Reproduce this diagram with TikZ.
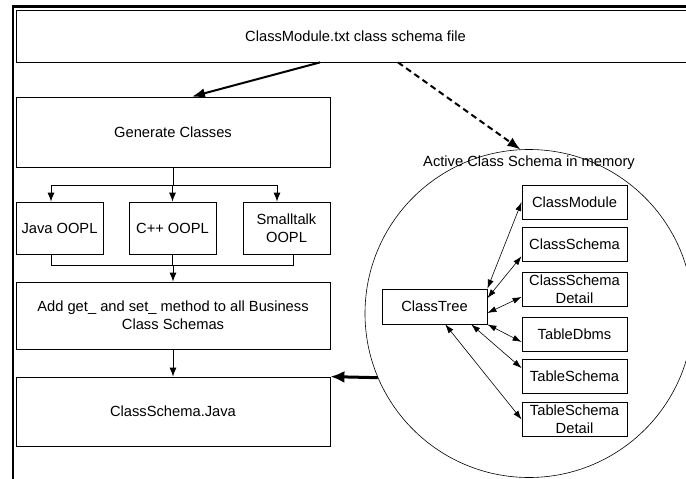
\documentclass[tikz,border=0pt]{standalone}
\usepackage{fontspec}
\setmainfont{Liberation Sans}
\usetikzlibrary{positioning,arrows.meta}

\tikzset{
    box/.style={draw,rectangle,line width=0.8pt,inner sep=0pt,align=center,
        font=\fontsize{14.7}{17.7}\selectfont},
    flow/.style={line width=0.8pt,-{Latex[length=9pt,width=7pt]}},
    link/.style={line width=0.6pt,{Latex[length=9pt,width=6pt]}-{Latex[length=9pt,width=6pt]}},
    fat/.style={line width=2pt,-{Latex[length=13pt,width=10pt]}}
}

\begin{document}
\begin{tikzpicture}[x=1pt,y=-1pt]
\useasboundingbox (0,0) rectangle (686,479);

% outer frame
\draw[line width=2.5pt] (13,479) -- (13,6.5) -- (692,6.5);

\node[box,minimum width=679,minimum height=52] (file) at (355.5,36) {ClassModule.txt class schema file};
\node[box,minimum width=314,minimum height=70] (gen) at (173,132) {Generate Classes};

\foreach \x/\name/\label in {59.5/java/Java OOPL, 172.5/cpp/C++ OOPL, 286.5/small/{Smalltalk\\OOPL}} {
    \node[box,minimum width=87,minimum height=52] (\name) at (\x,228) {\label};
}

\node[box,minimum width=314,minimum height=67] (add) at (173,315.5) {Add get\_ and set\_ method to all Business\\Class Schemas};
\node[box,minimum width=314,minimum height=69] (schemajava) at (173,411.5) {ClassSchema.Java};

\coordinate (split) at (173,185);
\coordinate (merge) at (173,265);

\draw[line width=0.8pt] (gen.south) -- (split);
\foreach \name/\dx in {java/-8.5, cpp/0, small/-9.5} {
    \draw[flow] (split) -| ([xshift=\dx pt]\name.north);
}
\foreach \name/\dx in {java/-8.5, cpp/0, small/6.5} {
    \draw[line width=0.8pt] ([xshift=\dx pt]\name.south) |- (merge);
}
\draw[flow] (merge) -- (add.north);
\draw[flow] (add.south) -- (schemajava.north);

% class schema held in memory
\node[draw,circle,line width=0.6pt,minimum size=328,inner sep=0pt] (memory) at (529,313.5) {};
\node[font=\fontsize{14.7}{17.7}\selectfont] (memlabel) at (529,163) {Active Class Schema in memory};

\node[box,minimum width=105,minimum height=35] (tree) at (434.5,306.5) {ClassTree};

\foreach \y/\name/\label in {202/module/ClassModule, 244/schema/ClassSchema,
        289.5/schemadetail/{ClassSchema\\Detail}, 334.5/dbms/TableDbms,
        376.5/tschema/TableSchema, 419.5/tdetail/{TableSchema\\Detail}} {
    \node[box,minimum width=105,minimum height=34] (\name) at (574.5,\y) {\label};
}

\foreach \from/\name/\to in {north east/module/west, 9/schema/193, -7/schemadetail/188,
        south east/dbms/188, -26/tschema/171, -59/tdetail/west} {
    \draw[link] (tree.\from) -- (\name.\to);
}

\draw[fat] ([xshift=-35.5pt]file.south) -- ([xshift=19pt]gen.north);
\draw[fat,dash pattern=on 6pt off 4pt] ([xshift=42.5pt]file.south) -- (memory.93);
\draw[line width=3pt,-{Latex[length=14pt,width=12pt]}] (memory.203) -- (schemajava.north east);
\end{tikzpicture}
\end{document}
